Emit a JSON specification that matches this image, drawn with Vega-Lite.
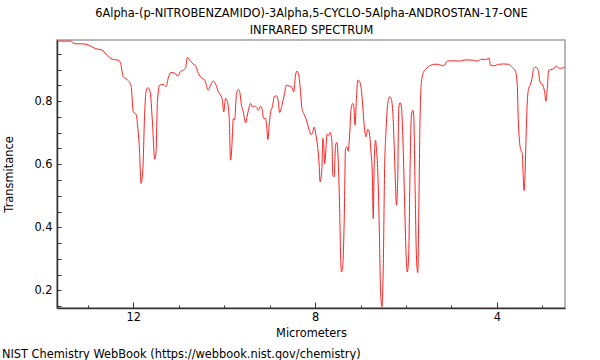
{
  "$schema": "https://vega.github.io/schema/vega-lite/v6.json",
  "width": 508,
  "height": 268,
  "autosize": {"type": "none"},
  "padding": {"left": 57, "top": 40, "right": 35, "bottom": 52},
  "background": "white",
  "title": {
    "text": "NIST Chemistry WebBook (https://webbook.nist.gov/chemistry)",
    "orient": "bottom", "anchor": "start", "frame": "bounds",
    "font": "DejaVu Sans", "fontSize": 11.4, "fontWeight": "normal", "color": "#000", "offset": 10, "dx": -2
  },
  "config": {
    "view": {"stroke": "#a0a0a0", "strokeWidth": 1.5},
    "font": "DejaVu Sans",
    "axis": {"labelFont": "DejaVu Sans", "titleFont": "DejaVu Sans", "labelColor": "#000", "titleColor": "#000", "titleFontWeight": "normal", "domainColor": "#333", "tickColor": "#333", "grid": false, "labelOverlap": false}
  },
  "data": {"values": [
    {"um": 13.66, "t": 0.991}, {"um": 13.50, "t": 0.990}, {"um": 13.39, "t": 0.991}, {"um": 13.28, "t": 0.982},
    {"um": 13.13, "t": 0.982}, {"um": 12.99, "t": 0.978}, {"um": 12.84, "t": 0.967}, {"um": 12.69, "t": 0.962},
    {"um": 12.55, "t": 0.941}, {"um": 12.44, "t": 0.932}, {"um": 12.33, "t": 0.930}, {"um": 12.28, "t": 0.920},
    {"um": 12.22, "t": 0.877}, {"um": 12.14, "t": 0.869}, {"um": 12.05, "t": 0.849}, {"um": 12.00, "t": 0.766},
    {"um": 11.94, "t": 0.758}, {"um": 11.90, "t": 0.713}, {"um": 11.87, "t": 0.660}, {"um": 11.83, "t": 0.539},
    {"um": 11.79, "t": 0.586}, {"um": 11.75, "t": 0.766}, {"um": 11.72, "t": 0.830}, {"um": 11.68, "t": 0.843},
    {"um": 11.63, "t": 0.830}, {"um": 11.58, "t": 0.734}, {"um": 11.53, "t": 0.616}, {"um": 11.50, "t": 0.639},
    {"um": 11.47, "t": 0.798}, {"um": 11.42, "t": 0.851}, {"um": 11.34, "t": 0.853}, {"um": 11.28, "t": 0.846},
    {"um": 11.23, "t": 0.874}, {"um": 11.17, "t": 0.891}, {"um": 11.08, "t": 0.888}, {"um": 11.02, "t": 0.879},
    {"um": 10.97, "t": 0.893}, {"um": 10.87, "t": 0.901}, {"um": 10.85, "t": 0.904}, {"um": 10.81, "t": 0.939},
    {"um": 10.76, "t": 0.930}, {"um": 10.68, "t": 0.917}, {"um": 10.63, "t": 0.912}, {"um": 10.57, "t": 0.888},
    {"um": 10.50, "t": 0.874}, {"um": 10.43, "t": 0.867}, {"um": 10.35, "t": 0.835}, {"um": 10.30, "t": 0.851},
    {"um": 10.24, "t": 0.864}, {"um": 10.18, "t": 0.851}, {"um": 10.13, "t": 0.830}, {"um": 10.08, "t": 0.819},
    {"um": 10.04, "t": 0.803}, {"um": 10.01, "t": 0.766}, {"um": 9.97, "t": 0.809}, {"um": 9.93, "t": 0.798},
    {"um": 9.89, "t": 0.745}, {"um": 9.86, "t": 0.613}, {"um": 9.83, "t": 0.660}, {"um": 9.80, "t": 0.745},
    {"um": 9.77, "t": 0.740}, {"um": 9.73, "t": 0.824}, {"um": 9.69, "t": 0.837}, {"um": 9.66, "t": 0.830},
    {"um": 9.62, "t": 0.787}, {"um": 9.58, "t": 0.766}, {"um": 9.53, "t": 0.731}, {"um": 9.49, "t": 0.756},
    {"um": 9.45, "t": 0.782}, {"um": 9.42, "t": 0.793}, {"um": 9.38, "t": 0.782}, {"um": 9.33, "t": 0.784},
    {"um": 9.28, "t": 0.779}, {"um": 9.25, "t": 0.771}, {"um": 9.20, "t": 0.784}, {"um": 9.17, "t": 0.777},
    {"um": 9.13, "t": 0.745}, {"um": 9.09, "t": 0.745}, {"um": 9.06, "t": 0.713}, {"um": 9.04, "t": 0.678},
    {"um": 9.01, "t": 0.724}, {"um": 8.98, "t": 0.766}, {"um": 8.94, "t": 0.782}, {"um": 8.90, "t": 0.814},
    {"um": 8.85, "t": 0.817}, {"um": 8.81, "t": 0.799}, {"um": 8.78, "t": 0.764}, {"um": 8.73, "t": 0.787},
    {"um": 8.68, "t": 0.819}, {"um": 8.63, "t": 0.851}, {"um": 8.57, "t": 0.848}, {"um": 8.52, "t": 0.846},
    {"um": 8.47, "t": 0.830}, {"um": 8.43, "t": 0.883}, {"um": 8.40, "t": 0.895}, {"um": 8.36, "t": 0.883},
    {"um": 8.32, "t": 0.830}, {"um": 8.29, "t": 0.777}, {"um": 8.25, "t": 0.761}, {"um": 8.19, "t": 0.740},
    {"um": 8.13, "t": 0.708}, {"um": 8.09, "t": 0.694}, {"um": 8.05, "t": 0.703}, {"um": 8.02, "t": 0.718},
    {"um": 7.98, "t": 0.692}, {"um": 7.94, "t": 0.650}, {"um": 7.91, "t": 0.597}, {"um": 7.89, "t": 0.544},
    {"um": 7.85, "t": 0.586}, {"um": 7.83, "t": 0.682}, {"um": 7.81, "t": 0.660}, {"um": 7.79, "t": 0.602},
    {"um": 7.76, "t": 0.650}, {"um": 7.74, "t": 0.694}, {"um": 7.70, "t": 0.692}, {"um": 7.67, "t": 0.701},
    {"um": 7.63, "t": 0.671}, {"um": 7.61, "t": 0.565}, {"um": 7.58, "t": 0.560}, {"um": 7.55, "t": 0.660},
    {"um": 7.52, "t": 0.669}, {"um": 7.49, "t": 0.607}, {"um": 7.46, "t": 0.459}, {"um": 7.44, "t": 0.322},
    {"um": 7.42, "t": 0.258}, {"um": 7.39, "t": 0.279}, {"um": 7.36, "t": 0.417}, {"um": 7.33, "t": 0.650},
    {"um": 7.30, "t": 0.655}, {"um": 7.27, "t": 0.641}, {"um": 7.24, "t": 0.692}, {"um": 7.21, "t": 0.771},
    {"um": 7.17, "t": 0.793}, {"um": 7.15, "t": 0.787}, {"um": 7.12, "t": 0.724}, {"um": 7.09, "t": 0.809},
    {"um": 7.06, "t": 0.867}, {"um": 7.03, "t": 0.864}, {"um": 6.99, "t": 0.846}, {"um": 6.95, "t": 0.782},
    {"um": 6.92, "t": 0.724}, {"um": 6.88, "t": 0.687}, {"um": 6.84, "t": 0.711}, {"um": 6.81, "t": 0.703},
    {"um": 6.77, "t": 0.639}, {"um": 6.74, "t": 0.565}, {"um": 6.72, "t": 0.428}, {"um": 6.70, "t": 0.597},
    {"um": 6.67, "t": 0.676}, {"um": 6.65, "t": 0.650}, {"um": 6.62, "t": 0.576}, {"um": 6.59, "t": 0.417},
    {"um": 6.56, "t": 0.205}, {"um": 6.53, "t": 0.148}, {"um": 6.50, "t": 0.269}, {"um": 6.47, "t": 0.586},
    {"um": 6.44, "t": 0.703}, {"um": 6.40, "t": 0.793}, {"um": 6.36, "t": 0.814}, {"um": 6.33, "t": 0.810},
    {"um": 6.29, "t": 0.766}, {"um": 6.26, "t": 0.660}, {"um": 6.23, "t": 0.533}, {"um": 6.21, "t": 0.470},
    {"um": 6.18, "t": 0.565}, {"um": 6.16, "t": 0.777}, {"um": 6.13, "t": 0.795}, {"um": 6.10, "t": 0.782},
    {"um": 6.07, "t": 0.692}, {"um": 6.03, "t": 0.480}, {"um": 6.00, "t": 0.322}, {"um": 5.97, "t": 0.258},
    {"um": 5.94, "t": 0.311}, {"um": 5.91, "t": 0.586}, {"um": 5.88, "t": 0.756}, {"um": 5.85, "t": 0.771},
    {"um": 5.83, "t": 0.756}, {"um": 5.80, "t": 0.533}, {"um": 5.77, "t": 0.311}, {"um": 5.74, "t": 0.256},
    {"um": 5.72, "t": 0.428}, {"um": 5.69, "t": 0.745}, {"um": 5.66, "t": 0.861}, {"um": 5.61, "t": 0.893},
    {"um": 5.56, "t": 0.902}, {"um": 5.51, "t": 0.909}, {"um": 5.45, "t": 0.914}, {"um": 5.38, "t": 0.917},
    {"um": 5.30, "t": 0.917}, {"um": 5.23, "t": 0.914}, {"um": 5.17, "t": 0.912}, {"um": 5.09, "t": 0.927},
    {"um": 4.98, "t": 0.928}, {"um": 4.80, "t": 0.927}, {"um": 4.69, "t": 0.931}, {"um": 4.54, "t": 0.930},
    {"um": 4.43, "t": 0.927}, {"um": 4.34, "t": 0.933}, {"um": 4.25, "t": 0.932}, {"um": 4.17, "t": 0.936},
    {"um": 4.14, "t": 0.914}, {"um": 4.07, "t": 0.912}, {"um": 3.96, "t": 0.917}, {"um": 3.85, "t": 0.918},
    {"um": 3.74, "t": 0.917}, {"um": 3.65, "t": 0.906}, {"um": 3.59, "t": 0.895}, {"um": 3.55, "t": 0.851},
    {"um": 3.53, "t": 0.745}, {"um": 3.50, "t": 0.671}, {"um": 3.47, "t": 0.644}, {"um": 3.44, "t": 0.634},
    {"um": 3.42, "t": 0.565}, {"um": 3.40, "t": 0.517}, {"um": 3.38, "t": 0.565}, {"um": 3.36, "t": 0.671},
    {"um": 3.33, "t": 0.798}, {"um": 3.30, "t": 0.840}, {"um": 3.26, "t": 0.853}, {"um": 3.22, "t": 0.877},
    {"um": 3.19, "t": 0.904}, {"um": 3.14, "t": 0.908}, {"um": 3.09, "t": 0.898}, {"um": 3.05, "t": 0.861},
    {"um": 2.99, "t": 0.851}, {"um": 2.95, "t": 0.830}, {"um": 2.92, "t": 0.800}, {"um": 2.89, "t": 0.840},
    {"um": 2.86, "t": 0.898}, {"um": 2.78, "t": 0.901}, {"um": 2.75, "t": 0.902}, {"um": 2.70, "t": 0.912},
    {"um": 2.65, "t": 0.906}, {"um": 2.60, "t": 0.904}, {"um": 2.51, "t": 0.908}
  ]},
  "layer": [
    {
      "mark": {"type": "line", "color": "#ff2020", "strokeWidth": 1, "interpolate": "monotone", "clip": true},
      "encoding": {
        "x": {
          "field": "um", "type": "quantitative",
          "scale": {"domain": [2.5, 13.68], "reverse": true, "nice": false, "zero": false},
          "axis": {
            "title": "Micrometers", "titleFontSize": 11.4, "titlePadding": 2,
            "values": [3, 4, 5, 6, 7, 8, 9, 10, 11, 12, 13], "tickCount": 100, "format": "d",
            "labelExpr": "datum.value % 4 == 0 ? datum.label : ''",
            "labelFontSize": 11.4, "labelPadding": 9, "labelOverlap": false,
            "tickSize": {"condition": {"test": "datum.value % 4 == 0", "value": -6}, "value": -3},
            "domainWidth": 1.5
          }
        },
        "y": {
          "field": "t", "type": "quantitative",
          "scale": {"domain": [0.144, 0.994], "nice": false, "zero": false},
          "axis": {
            "title": "Transmitance", "titleFontSize": 11.4, "titlePadding": 19,
            "values": [0.15, 0.2, 0.25, 0.3, 0.35, 0.4, 0.45, 0.5, 0.55, 0.6, 0.65, 0.7, 0.75, 0.8, 0.85, 0.9, 0.95], "tickCount": 100,
            "labelExpr": "abs(datum.value * 5 - round(datum.value * 5)) < 0.001 ? format(datum.value, '.1f') : ''",
            "labelFontSize": 11.4, "labelPadding": 9, "labelOverlap": false,
            "tickSize": -4,
            "domainWidth": 1.5
          }
        }
      }
    },
    {
      "mark": {"type": "point", "opacity": 0},
      "encoding": {
        "x": {
          "field": "um", "type": "quantitative",
          "axis": {
            "orient": "top",
            "title": ["6Alpha-(p-NITROBENZAMIDO)-3Alpha,5-CYCLO-5Alpha-ANDROSTAN-17-ONE", "INFRARED SPECTRUM"],
            "titleFontSize": 11.4, "titleLineHeight": 17, "titlePadding": 5,
            "labels": false, "ticks": false, "domain": false
          }
        },
        "y": {"field": "t", "type": "quantitative"}
      }
    }
  ],
  "resolve": {"axis": {"x": "independent"}}
}
